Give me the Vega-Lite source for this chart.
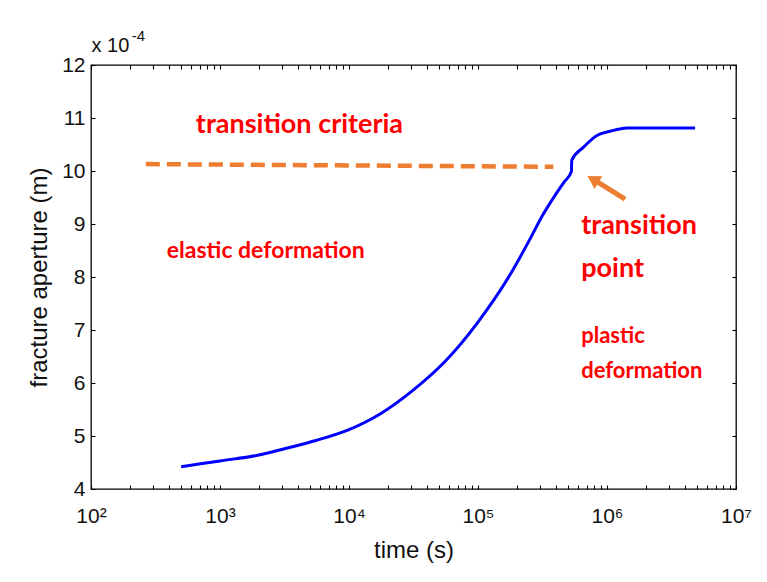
{
  "$schema": "https://vega.github.io/schema/vega-lite/v6.json",
  "autosize": "none",
  "width": 645,
  "height": 424,
  "padding": {"left": 91, "top": 65, "right": 31, "bottom": 93},
  "background": "white",
  "config": {
    "view": {"stroke": "#000000", "strokeWidth": 1.3},
    "font": "Liberation Sans",
    "axis": {"grid": false, "domain": false, "tickColor": "#000000", "labelColor": "#111111", "titleColor": "#111111", "labelFont": "Liberation Sans", "titleFont": "Liberation Sans", "titleFontWeight": "normal", "labelFontSize": 21, "titleFontSize": 24, "tickWidth": 1.1, "tickSize": 4, "offset": -4}
  },
  "datasets": {
    "curve": [
      {"t": 500, "v": 4.42}, {"t": 1000, "v": 4.53}, {"t": 2000, "v": 4.64}, {"t": 3160, "v": 4.76},
      {"t": 5620, "v": 4.92}, {"t": 10000, "v": 5.12}, {"t": 17800, "v": 5.43}, {"t": 31600, "v": 5.87},
      {"t": 56200, "v": 6.42}, {"t": 100000, "v": 7.15}, {"t": 178000, "v": 8.05}, {"t": 251000, "v": 8.7},
      {"t": 316000, "v": 9.16}, {"t": 398000, "v": 9.55}, {"t": 468000, "v": 9.8}, {"t": 530000, "v": 9.99},
      {"t": 533000, "v": 10.2}, {"t": 658000, "v": 10.45}, {"t": 835000, "v": 10.67}, {"t": 1060000, "v": 10.75},
      {"t": 1430000, "v": 10.81}, {"t": 4820000, "v": 10.81}
    ],
    "criteria": [{"t": 266, "v": 10.13}, {"t": 384000, "v": 10.08}],
    "arrow": [{"t": 1380000, "v": 9.47}, {"t": 778000, "v": 9.845}],
    "head": [{"t": 778000, "v": 9.845}],
    "t1": [{"t": 650, "v": 10.87, "label": "transition criteria"}],
    "t2": [{"t": 387, "v": 8.5, "label": "elastic deformation"}],
    "t3": [{"t": 631000, "v": 8.97, "label": "transition"}, {"t": 631000, "v": 8.16, "label": "point"}],
    "t4": [{"t": 631000, "v": 6.88, "label": "plastic"}, {"t": 631000, "v": 6.22, "label": "deformation"}],
    "t5": [{"t": 101, "v": 12.35, "label": "x 10"}],
    "t6": [{"t": 207, "v": 12.55, "label": "-4"}]
  },
  "resolve": {"axis": {"x": "independent", "y": "independent"}},
  "layer": [
    {
      "data": {"name": "curve"},
      "mark": {"type": "line", "color": "#0000ff", "strokeWidth": 3, "interpolate": "monotone"},
      "encoding": {
        "x": {"field": "t", "type": "quantitative",
          "scale": {"type": "log", "domain": [100, 10000000], "nice": false},
          "axis": {"orient": "bottom", "title": "time (s)", "labelPadding": 16, "titlePadding": 12, "labelFlush": false, "labelOverlap": false,
            "values": [100,200,300,400,500,600,700,800,900,1000,2000,3000,4000,5000,6000,7000,8000,9000,10000,20000,30000,40000,50000,60000,70000,80000,90000,100000,200000,300000,400000,500000,600000,700000,800000,900000,1000000,2000000,3000000,4000000,5000000,6000000,7000000,8000000,9000000,10000000],
            "labelExpr": "indexof([100,1000,10000,100000,1000000,10000000], datum.value) >= 0 ? '10' + ['²','³','⁴','⁵','⁶','⁷'][indexof([100,1000,10000,100000,1000000,10000000], datum.value)] : ''"}},
        "y": {"field": "v", "type": "quantitative",
          "scale": {"domain": [4, 12], "nice": false, "zero": false},
          "axis": {"orient": "left", "title": "fracture aperture (m)", "labelPadding": 6, "titlePadding": 10, "values": [4,5,6,7,8,9,10,11,12], "labelFlush": false}}
      }
    },
    {
      "data": {"name": "criteria"},
      "mark": {"type": "line", "color": "#ed7d31", "strokeWidth": 4.5, "strokeDash": [14, 7]},
      "encoding": {
        "x": {"field": "t", "type": "quantitative",
          "axis": {"orient": "top", "title": null, "labels": false,
            "values": [100,200,300,400,500,600,700,800,900,1000,2000,3000,4000,5000,6000,7000,8000,9000,10000,20000,30000,40000,50000,60000,70000,80000,90000,100000,200000,300000,400000,500000,600000,700000,800000,900000,1000000,2000000,3000000,4000000,5000000,6000000,7000000,8000000,9000000,10000000]}},
        "y": {"field": "v", "type": "quantitative",
          "axis": {"orient": "right", "title": null, "labels": false, "values": [4,5,6,7,8,9,10,11,12]}}
      }
    },
    {
      "data": {"name": "arrow"},
      "mark": {"type": "line", "color": "#ed7d31", "strokeWidth": 5},
      "encoding": {
        "x": {"field": "t", "type": "quantitative", "axis": null},
        "y": {"field": "v", "type": "quantitative", "axis": null}
      }
    },
    {
      "data": {"name": "head"},
      "mark": {"type": "point", "shape": "triangle-up", "filled": true, "color": "#ed7d31", "opacity": 1, "size": 220, "angle": 301},
      "encoding": {
        "x": {"field": "t", "type": "quantitative", "axis": null},
        "y": {"field": "v", "type": "quantitative", "axis": null}
      }
    },
    {
      "data": {"name": "t1"},
      "mark": {"type": "text", "align": "left", "baseline": "middle", "font": "Lato", "fontWeight": "bold", "fontSize": 27, "color": "#ff0000"},
      "encoding": {
        "x": {"field": "t", "type": "quantitative", "axis": null},
        "y": {"field": "v", "type": "quantitative", "axis": null},
        "text": {"field": "label"}
      }
    },
    {
      "data": {"name": "t2"},
      "mark": {"type": "text", "align": "left", "baseline": "middle", "font": "Lato", "fontWeight": "bold", "fontSize": 23, "color": "#ff0000"},
      "encoding": {
        "x": {"field": "t", "type": "quantitative", "axis": null},
        "y": {"field": "v", "type": "quantitative", "axis": null},
        "text": {"field": "label"}
      }
    },
    {
      "data": {"name": "t3"},
      "mark": {"type": "text", "align": "left", "baseline": "middle", "font": "Lato", "fontWeight": "bold", "fontSize": 27, "color": "#ff0000"},
      "encoding": {
        "x": {"field": "t", "type": "quantitative", "axis": null},
        "y": {"field": "v", "type": "quantitative", "axis": null},
        "text": {"field": "label"}
      }
    },
    {
      "data": {"name": "t4"},
      "mark": {"type": "text", "align": "left", "baseline": "middle", "font": "Lato", "fontWeight": "bold", "fontSize": 22, "color": "#ff0000"},
      "encoding": {
        "x": {"field": "t", "type": "quantitative", "axis": null},
        "y": {"field": "v", "type": "quantitative", "axis": null},
        "text": {"field": "label"}
      }
    },
    {
      "data": {"name": "t5"},
      "mark": {"type": "text", "align": "left", "baseline": "middle", "font": "Liberation Sans", "fontSize": 20, "color": "#111111"},
      "encoding": {
        "x": {"field": "t", "type": "quantitative", "axis": null},
        "y": {"field": "v", "type": "quantitative", "axis": null},
        "text": {"field": "label"}
      }
    },
    {
      "data": {"name": "t6"},
      "mark": {"type": "text", "align": "left", "baseline": "middle", "font": "Liberation Sans", "fontSize": 15, "color": "#111111"},
      "encoding": {
        "x": {"field": "t", "type": "quantitative", "axis": null},
        "y": {"field": "v", "type": "quantitative", "axis": null},
        "text": {"field": "label"}
      }
    }
  ]
}
